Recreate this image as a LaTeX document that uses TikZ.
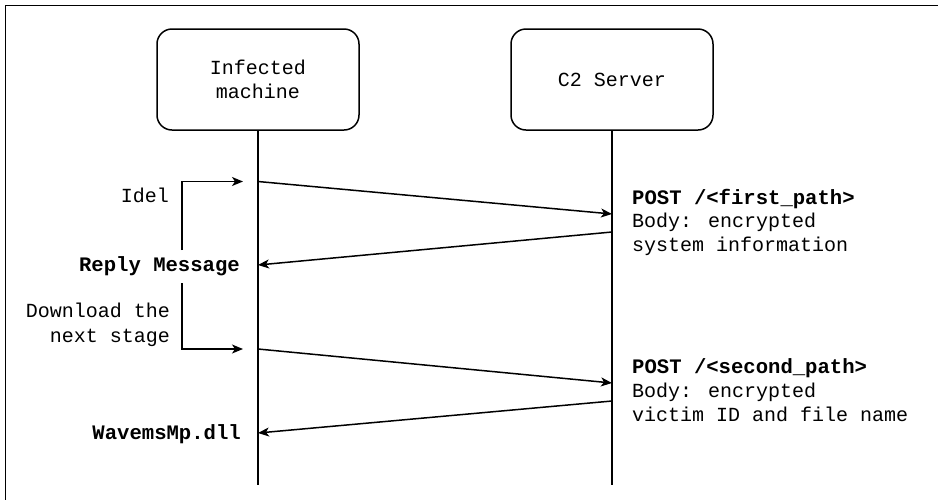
\documentclass[tikz,border=0pt]{standalone}
\usepackage{fontspec}
\newfontfamily\diagmono{Liberation Mono}
\usetikzlibrary{arrows.meta}
\tikzset{
  every node/.style={font=\diagmono\fontsize{20}{24.5}\selectfont, inner sep=0pt, text=black},
  boldlbl/.style={font=\diagmono\bfseries\fontsize{20.6}{24.5}\selectfont},
  actor/.style={draw, line width=1.5pt, rounded corners=15pt, minimum width=202pt,
                minimum height=101pt, align=center},
  lifeline/.style={line width=1.5pt},
  msg/.style={line width=1.5pt, -{Stealth[length=11pt, width=9pt, inset=3pt]}},
}
\begin{document}
\begin{tikzpicture}[x=1pt, y=-1pt]
  \useasboundingbox (0,0) rectangle (938,499);
  % outer frame, running past the right and bottom edges
  \draw[line width=1.6pt] (5.5,5.5) rectangle (960,520);

  % participants
  \node[actor] (im) at (258,79.5) {Infected\\machine};
  \node[actor] (c2) at (612,79.5) {C2 Server};

  % lifelines
  \coordinate (imEnd) at (258,485);
  \coordinate (c2End) at (612,485);
  \draw[lifeline] (im.south) -- (imEnd);
  \draw[lifeline] (c2.south) -- (c2End);

  % message end points on the lifelines
  \coordinate (m1s) at (258,181.5);
  \coordinate (m1e) at (612,214);
  \coordinate (m2s) at (612,232);
  \coordinate (m2e) at (258,265);
  \coordinate (m3s) at (258,349);
  \coordinate (m3e) at (612,383);
  \coordinate (m4s) at (612,401);
  \coordinate (m4e) at (258,433);

  \draw[msg] (m1s) -- (m1e);
  \draw[msg] (m2s) -- (m2e);
  \draw[msg] (m3s) -- (m3e);
  \draw[msg] (m4s) -- (m4e);

  % local steps on the infected machine
  \coordinate (l1s) at (182,250);
  \coordinate (l1e) at (243,181.5);
  \coordinate (l2s) at (182,283);
  \coordinate (l2e) at (243,349);
  \draw[msg] (l1s) |- (l1e);
  \draw[msg] (l2s) |- (l2e);

  % labels on the left
  \node[anchor=base east] (idel) at (169,202) {Idel};
  \node[boldlbl, anchor=base east] (reply) at (240,271) {Reply Message};
  \node[anchor=base east] (dl1) at (170,317) {Download the};
  \node[anchor=base east] (dl2) at (170,342.5) {next stage};
  \node[boldlbl, anchor=base east] (dll) at (241,439) {WavemsMp.dll};

  % request descriptions on the right
  \node[boldlbl, anchor=base west] (post1) at (632,204) {POST /<first\_path>};
  \node[anchor=base west] (body1a) at (632,227.5) {Body: encrypted};
  \node[anchor=base west] (body1b) at (632,251) {system information};
  \node[boldlbl, anchor=base west] (post2) at (632,373.5) {POST /<second\_path>};
  \node[anchor=base west] (body2a) at (632,397) {Body: encrypted};
  \node[anchor=base west] (body2b) at (632,421) {victim ID and file name};
\end{tikzpicture}
\end{document}
